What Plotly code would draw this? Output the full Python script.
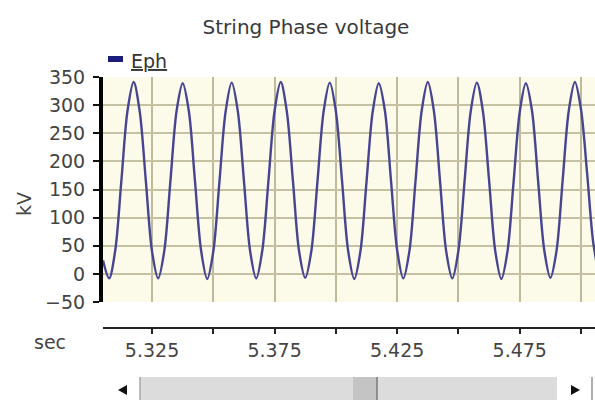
import plotly.graph_objects as go

# Sampled string phase voltage (kV), one sample every 2.5 ms
time_s = [
    5.3050, 5.3075, 5.3100, 5.3125, 5.3150, 5.3175, 5.3200, 5.3225,
    5.3250, 5.3275, 5.3300, 5.3325, 5.3350, 5.3375, 5.3400, 5.3425,
    5.3450, 5.3475, 5.3500, 5.3525, 5.3550, 5.3575, 5.3600, 5.3625,
    5.3650, 5.3675, 5.3700, 5.3725, 5.3750, 5.3775, 5.3800, 5.3825,
    5.3850, 5.3875, 5.3900, 5.3925, 5.3950, 5.3975, 5.4000, 5.4025,
    5.4050, 5.4075, 5.4100, 5.4125, 5.4150, 5.4175, 5.4200, 5.4225,
    5.4250, 5.4275, 5.4300, 5.4325, 5.4350, 5.4375, 5.4400, 5.4425,
    5.4450, 5.4475, 5.4500, 5.4525, 5.4550, 5.4575, 5.4600, 5.4625,
    5.4650, 5.4675, 5.4700, 5.4725, 5.4750, 5.4775, 5.4800, 5.4825,
    5.4850, 5.4875, 5.4900, 5.4925, 5.4950, 5.4975, 5.5000, 5.5025,
    5.5050, 5.5075,
]
eph_kv = [
    24, -8, 42, 166, 290, 341, 288, 164,
    40, -8, 41, 165, 289, 339, 290, 166,
    42, -9, 40, 164, 288, 340, 289, 165,
    41, -8, 42, 166, 290, 341, 288, 164,
    40, -7, 41, 165, 289, 340, 289, 166,
    41, -9, 40, 164, 288, 339, 290, 165,
    42, -8, 41, 166, 290, 341, 289, 164,
    40, -8, 42, 165, 289, 340, 288, 166,
    41, -9, 40, 164, 288, 339, 290, 165,
    42, -7, 41, 166, 290, 341, 292, 178,
    55, -5,
]

x_ticks = [5.325, 5.350, 5.375, 5.400, 5.425, 5.450, 5.475, 5.500]
x_labels = ["5.325", "", "5.375", "", "5.425", "", "5.475", ""]

W, H = 595, 400
FONT = "DejaVu Sans"


def px(x):
    return x / W


def py(y):
    return 1 - y / H


x_range = [5.3050, 5.5057]

fig = go.Figure()
fig.add_trace(go.Scatter(
    x=time_s, y=eph_kv, mode="lines", name="Eph",
    line=dict(color="#454592", width=2.4, shape="spline", smoothing=0.9),
    showlegend=False, hoverinfo="skip",
))
# carrier trace for the separate time axis below the plot
fig.add_trace(go.Scatter(
    x=time_s[:1], y=[None], xaxis="x2", mode="lines",
    showlegend=False, hoverinfo="skip",
))

shapes = []
# legend swatch
shapes.append(dict(type="rect", xref="paper", yref="paper",
                   x0=px(108), x1=px(123), y0=py(62), y1=py(56),
                   fillcolor="#1c1c7c", line=dict(width=0)))
# scrollbar track
shapes.append(dict(type="rect", xref="paper", yref="paper",
                   x0=px(140), x1=px(557), y0=py(400), y1=py(377),
                   fillcolor="#dcdcdc", line=dict(width=0)))
shapes.append(dict(type="line", xref="paper", yref="paper",
                   x0=px(140), x1=px(140), y0=py(400), y1=py(377),
                   line=dict(color="#a8a8a8", width=1.5)))
# scrollbar thumb
shapes.append(dict(type="rect", xref="paper", yref="paper",
                   x0=px(353), x1=px(377), y0=py(400), y1=py(377),
                   fillcolor="#c4c4c4", line=dict(width=0)))
shapes.append(dict(type="line", xref="paper", yref="paper",
                   x0=px(377), x1=px(377), y0=py(400), y1=py(377),
                   line=dict(color="#7a7a7a", width=1.5)))
# scrollbar arrows
shapes.append(dict(type="path", xref="paper", yref="paper",
                   path=f"M {px(118)} {py(390)} L {px(127)} {py(385)} L {px(127)} {py(395)} Z",
                   fillcolor="#111111", line=dict(width=0)))
shapes.append(dict(type="path", xref="paper", yref="paper",
                   path=f"M {px(580)} {py(390)} L {px(571)} {py(385)} L {px(571)} {py(395)} Z",
                   fillcolor="#111111", line=dict(width=0)))
shapes.append(dict(type="line", xref="paper", yref="paper",
                   x0=px(592), x1=px(592), y0=py(400), y1=py(377),
                   line=dict(color="#b0b0b0", width=2)))

annotations = [
    dict(text="<u>Eph</u>", xref="paper", yref="paper", x=px(129), y=py(61),
         xanchor="left", yanchor="middle", showarrow=False,
         font=dict(family=FONT, size=19, color="#333333")),
    dict(text="kV", xref="paper", yref="paper", x=px(24), y=py(204),
         xanchor="center", yanchor="middle", showarrow=False, textangle=-90,
         font=dict(family=FONT, size=19, color="#444444")),
    dict(text="sec", xref="paper", yref="paper", x=px(50), y=py(342),
         xanchor="center", yanchor="middle", showarrow=False,
         font=dict(family=FONT, size=19, color="#444444")),
]

fig.update_layout(
    template="none",
    width=W, height=H,
    margin=dict(l=0, r=0, t=0, b=0, pad=0, autoexpand=False),
    paper_bgcolor="white",
    plot_bgcolor="#fcfae9",
    title=dict(text="String Phase voltage", x=px(306), y=py(27),
               xanchor="center", yanchor="middle", automargin=False,
               font=dict(family=FONT, size=20, color="#3a3a3a")),
    xaxis=dict(domain=[px(103), 1], range=x_range, automargin=False,
               tick0=5.325, dtick=0.025, showticklabels=False, ticks="",
               showgrid=True, gridcolor="#bfba9c", gridwidth=1.5,
               zeroline=False, showline=False, fixedrange=True),
    xaxis2=dict(overlaying="x", anchor="free", position=py(328), side="bottom",
                range=x_range, tickmode="array", tickvals=x_ticks, ticktext=x_labels,
                ticks="outside", ticklen=5, tickwidth=2, tickcolor="#222222",
                showline=True, linecolor="#222222", linewidth=2,
                showgrid=False, zeroline=False, automargin=False,
                tickfont=dict(family=FONT, size=19, color="#444444")),
    yaxis=dict(domain=[py(302), py(77)], range=[-50, 350], dtick=50, tick0=0,
               ticks="outside", ticklen=6, tickwidth=2, tickcolor="#111111",
               showline=True, linecolor="#000000", linewidth=4,
               showgrid=True, gridcolor="#c6c1a3", gridwidth=1.5,
               zeroline=False, automargin=False, ticklabelstandoff=4,
               tickfont=dict(family=FONT, size=19, color="#444444")),
    shapes=shapes,
    annotations=annotations,
    showlegend=False,
)

fig.write_html("out.html")
